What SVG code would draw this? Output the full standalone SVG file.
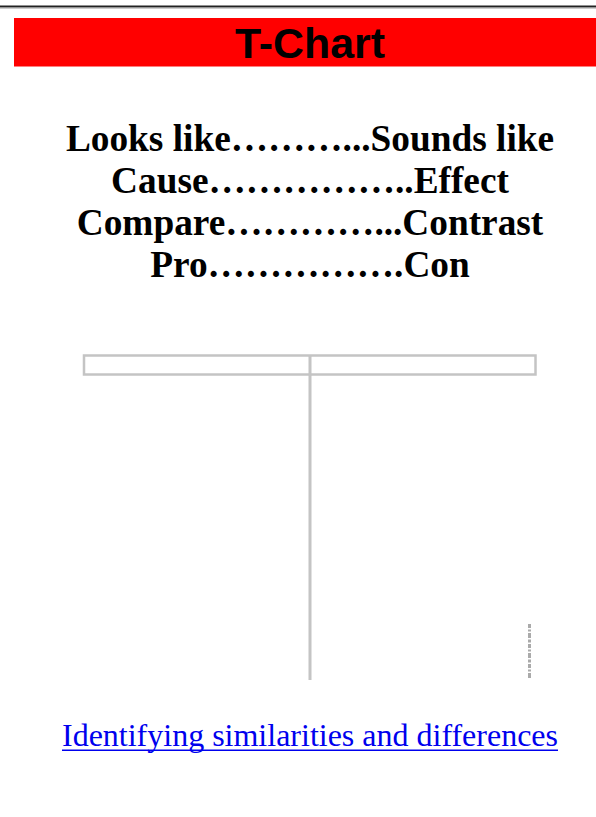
<svg xmlns="http://www.w3.org/2000/svg" width="596" height="817" viewBox="0 0 596 817">
<style>
.hd{font-family:"Liberation Serif","Times New Roman",serif;font-weight:bold;font-size:37.3px;fill:#000;text-anchor:middle}
.tt{font-family:"Liberation Sans",Arial,sans-serif;font-weight:bold;font-size:42px;fill:#000;text-anchor:middle}
.lk{font-family:"Liberation Serif","Times New Roman",serif;font-size:31.5px;fill:#0000ee}
.tl{fill:none;stroke:#c4c4c4}
</style>
<defs>
<filter id="bl" x="-5%" y="-5%" width="110%" height="110%"><feGaussianBlur stdDeviation="0.7"/></filter>
</defs>
<rect width="596" height="817" fill="#fff"/>
<g id="rule">
<rect x="0" y="5.5" width="596" height="2" fill="#222"/>
<rect x="0" y="7.5" width="596" height="1" fill="#999"/>
</g>
<g id="title">
<rect x="14" y="18" width="582" height="48.5" fill="#ff0000"/>
<text class="tt" x="310" y="57.5" textLength="150" lengthAdjust="spacingAndGlyphs">T-Chart</text>
</g>
<g id="pairs">
<text class="hd" x="310" y="151">Looks like………...Sounds like</text>
<text class="hd" x="310" y="193">Cause……………..Effect</text>
<text class="hd" x="310" y="235">Compare…………...Contrast</text>
<text class="hd" x="310" y="277">Pro…………….Con</text>
</g>
<g id="tchart" filter="url(#bl)">
<rect class="tl" x="84" y="355.5" width="451.5" height="19" stroke-width="2.5"/>
<line class="tl" x1="310" y1="355" x2="310" y2="680" stroke-width="3"/>
<line x1="529.5" y1="624" x2="529.5" y2="678" stroke="#aaa" stroke-width="3" stroke-dasharray="4 1.5 2 1.5 5 1.5 3 1.5"/>
</g>
<g id="link">
<text class="lk" x="62" y="746" textLength="496" lengthAdjust="spacingAndGlyphs">Identifying similarities and differences</text>
<rect x="62" y="749.5" width="496" height="1.5" fill="#0000ee"/>
</g>
</svg>
